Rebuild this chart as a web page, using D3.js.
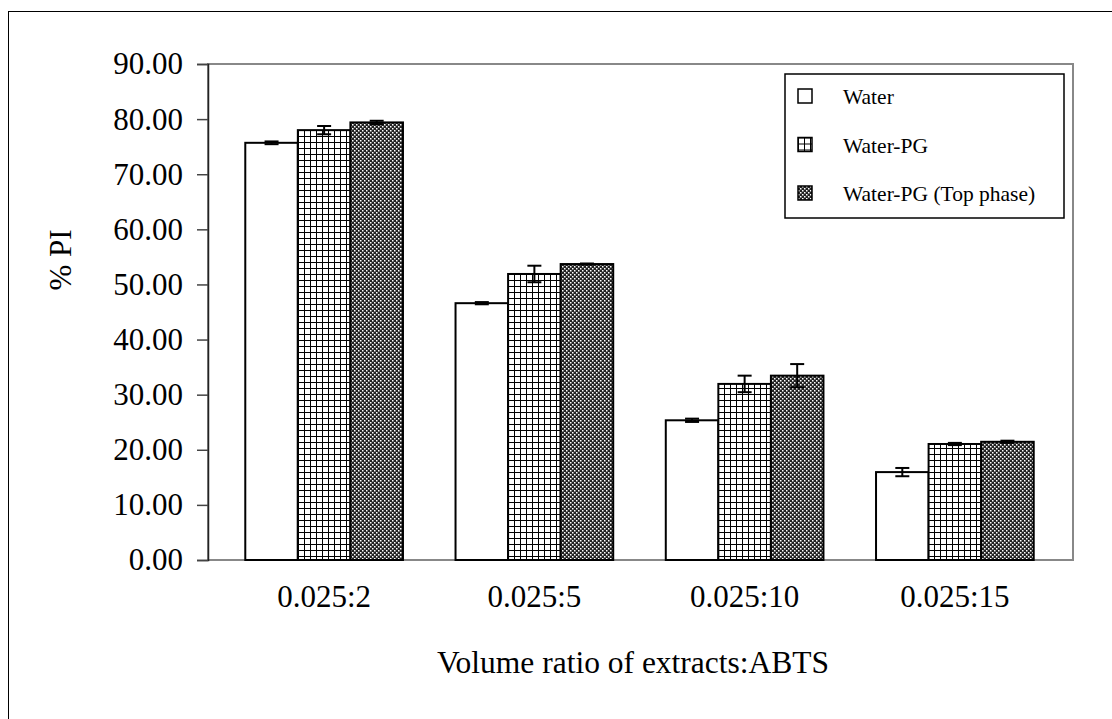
<html>
<head>
    <script src="https://d3js.org/d3.v7.min.js"></script>
    <style>
        body { margin: 0; background: white; }
        text { font-family: "Liberation Serif", "Times New Roman", serif; fill: black; }
    </style>
</head>
<body>
<div id="vis"></div>
<script type="text/javascript">
    // data
    var categories = ["0.025:2", "0.025:5", "0.025:10", "0.025:15"];
    var seriesNames = ["Water", "Water-PG", "Water-PG (Top phase)"];
    var waterVals = [75.7, 46.6, 25.35, 15.95];
    var waterPgVals = [78.0, 51.9, 31.95, 21.05];
    var topPhaseVals = [79.4, 53.7, 33.45, 21.45];
    var waterErr = [0.25, 0.2, 0.3, 0.75];
    var waterPgErr = [0.75, 1.5, 1.5, 0.2];
    var topPhaseErr = [0.3, 0.1, 2.1, 0.2];
    var yTicks = [0, 10, 20, 30, 40, 50, 60, 70, 80, 90];

    var seriesVals = [waterVals, waterPgVals, topPhaseVals];
    var seriesErr = [waterErr, waterPgErr, topPhaseErr];
    var fills = ["white", "url(#grid)", "url(#dots)"];

    var margin = {top: 64, left: 208};
    var width = 865, height = 496;

    var svg = d3.select("#vis").append("svg")
        .attr("width", 1112)
        .attr("height", 719);

    // patterns for the bars
    var defs = svg.append("defs");
    var grid = defs.append("pattern").attr("id", "grid")
        .attr("patternUnits", "userSpaceOnUse")
        .attr("width", 6).attr("height", 6);
    grid.append("rect").attr("width", 6).attr("height", 6).attr("fill", "white");
    grid.append("rect").attr("width", 6).attr("height", 1).attr("fill", "black");
    grid.append("rect").attr("width", 1).attr("height", 6).attr("fill", "black");

    var dots = defs.append("pattern").attr("id", "dots")
        .attr("patternUnits", "userSpaceOnUse")
        .attr("width", 4).attr("height", 4);
    dots.append("rect").attr("width", 4).attr("height", 4).attr("fill", "#222");
    dots.append("rect").attr("x", 0).attr("y", 0).attr("width", 1.5).attr("height", 1.5).attr("fill", "white");
    dots.append("rect").attr("x", 2).attr("y", 2).attr("width", 1.5).attr("height", 1.5).attr("fill", "white");

    // outer chart border
    svg.append("rect")
        .attr("x", 8.5).attr("y", 11.5)
        .attr("width", 1200).attr("height", 800)
        .attr("fill", "none").attr("stroke", "black").attr("stroke-width", 1);

    var g = svg.append("g")
        .attr("transform", "translate(" + margin.left + "," + margin.top + ")");

    // scales
    var x0 = d3.scaleBand().domain(categories)
        .range([11, 852]).paddingInner(0.25).paddingOuter(0.125);
    var x1 = d3.scaleBand().domain(d3.range(seriesNames.length))
        .range([0, x0.bandwidth()]);
    var y = d3.scaleLinear().domain([0, 90]).range([height, 0]);

    // plot area frame (gray)
    g.append("rect")
        .attr("x", 0).attr("y", 0)
        .attr("width", width).attr("height", height)
        .attr("fill", "none").attr("stroke", "#888").attr("stroke-width", 2);

    // bars
    seriesNames.forEach(function (name, s) {
        g.selectAll(".bar" + s)
            .data(categories)
            .enter().append("rect")
            .attr("x", function (d) { return x0(d) + x1(s); })
            .attr("y", function (d, i) { return y(seriesVals[s][i]); })
            .attr("width", x1.bandwidth())
            .attr("height", function (d, i) { return height - y(seriesVals[s][i]); })
            .attr("fill", fills[s])
            .attr("stroke", "black")
            .attr("stroke-width", 2);
    });

    // error bars
    seriesNames.forEach(function (name, s) {
        var eg = g.selectAll(".err" + s)
            .data(categories)
            .enter().append("g")
            .attr("stroke", "black")
            .attr("stroke-width", 2);
        var cx = function (d) { return x0(d) + x1(s) + x1.bandwidth() / 2; };
        var hi = function (d, i) { return y(seriesVals[s][i] + seriesErr[s][i]); };
        var lo = function (d, i) { return y(seriesVals[s][i] - seriesErr[s][i]); };
        eg.append("line").attr("x1", cx).attr("x2", cx).attr("y1", hi).attr("y2", lo);
        eg.append("line")
            .attr("x1", function (d) { return cx(d) - 7; })
            .attr("x2", function (d) { return cx(d) + 7; })
            .attr("y1", hi).attr("y2", hi);
        eg.append("line")
            .attr("x1", function (d) { return cx(d) - 7; })
            .attr("x2", function (d) { return cx(d) + 7; })
            .attr("y1", lo).attr("y2", lo);
    });

    // y axis
    var yAxis = g.append("g")
        .call(d3.axisLeft(y).tickValues(yTicks).tickSize(11).tickPadding(14)
            .tickFormat(d3.format(".2f")));
    yAxis.select(".domain").attr("stroke", "#222").attr("stroke-width", 1.5);
    yAxis.selectAll(".tick line").attr("stroke", "#444").attr("stroke-width", 1.5);
    yAxis.selectAll("text")
        .style("font-family", "Liberation Serif")
        .style("font-size", "31px");

    // category labels, centred under each group
    g.selectAll(".xlab")
        .data(categories)
        .enter().append("text")
        .attr("x", function (d) { return x0(d) + x0.bandwidth() / 2; })
        .attr("y", height + 47)
        .attr("text-anchor", "middle")
        .style("font-size", "31px")
        .text(function (d) { return d; });

    // axis titles
    svg.append("text")
        .attr("x", 633)
        .attr("y", 673)
        .attr("text-anchor", "middle")
        .style("font-size", "31.5px")
        .text("Volume ratio of extracts:ABTS");

    svg.append("text")
        .attr("transform", "translate(71,260) rotate(-90)")
        .attr("text-anchor", "middle")
        .style("font-size", "31px")
        .text("% PI");

    // legend
    var legend = svg.append("g").attr("class", "legend");
    legend.append("rect")
        .attr("x", 785).attr("y", 74)
        .attr("width", 279).attr("height", 144)
        .attr("fill", "white").attr("stroke", "black").attr("stroke-width", 1.5);
    var rows = legend.selectAll(".row")
        .data(seriesNames)
        .enter().append("g")
        .attr("transform", function (d, i) { return "translate(798," + (89 + i * 48.5) + ")"; });
    rows.append("rect")
        .attr("width", 14).attr("height", 14)
        .attr("fill", function (d, i) { return fills[i]; })
        .attr("stroke", "black").attr("stroke-width", 1.5);
    rows.append("text")
        .attr("x", 45).attr("y", 15)
        .style("font-size", "21.5px")
        .text(function (d) { return d; });
</script>
</body>
</html>
